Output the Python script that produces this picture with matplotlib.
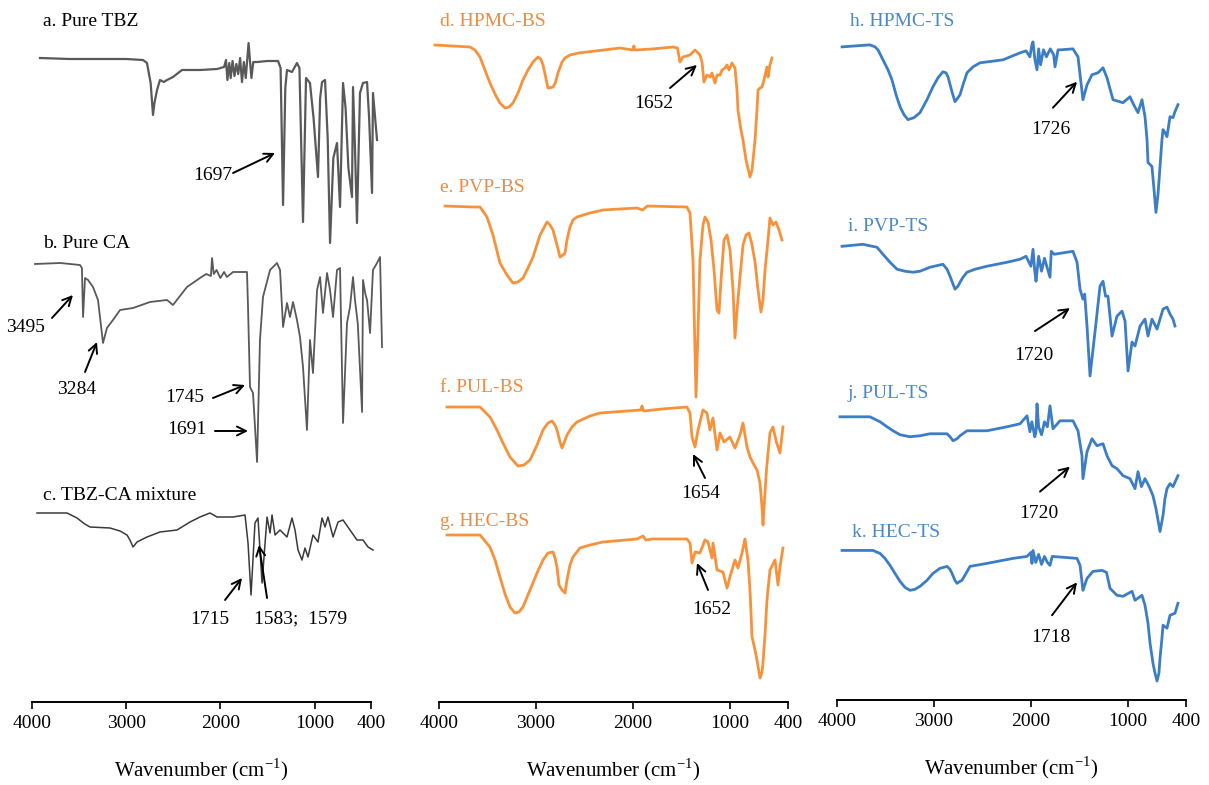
import matplotlib.pyplot as plt

plt.rcParams['font.family'] = ['Liberation Serif', 'DejaVu Serif']
plt.rcParams['mathtext.fontset'] = 'custom'
plt.rcParams['mathtext.rm'] = 'Liberation Serif'

# FTIR spectra: wavenumber (cm-1) and relative transmittance (a.u., 0 = baseline)
# a. Pure TBZ
tbz_wn = [3915, 3600, 3300, 3000, 2821, 2779, 2740, 2715, 2700, 2672, 2641, 2600, 2566, 2503, 2407,
          2216, 2035, 1960, 1940, 1925, 1905, 1890, 1870, 1850, 1830, 1810, 1790, 1770, 1750, 1730,
          1700, 1685, 1670, 1650, 1610, 1500, 1387, 1360, 1334, 1310, 1292, 1239, 1186, 1160, 1122,
          1090, 1048, 1010, 963, 940, 920, 888, 860, 835, 800, 761, 729, 697, 670, 640,
          602, 591, 570, 549, 517, 485, 442, 420, 389, 379, 336]
tbz_t = [0, -1, -1, -1, -2, -5, -25, -57, -45, -32, -22, -24, -22, -19, -12,
         -12, -11, -9, -2, -22, -5, -20, -3, -18, -6, -16, 0, -24, -4, -20,
         15, -3, -20, -4, -4, -3, -3, -10, -147, -30, -12, -14, -5, -10, -164,
         -20, -25, -60, -119, -40, -24, -22, -80, -185, -100, -85, -149, -25, -50, -110,
         -139, -29, -90, -165, -35, -25, -24, -60, -135, -35, -82]

# b. Pure CA
ca_wn = [3968, 3700, 3490, 3470, 3458, 3437, 3405, 3352, 3299, 3246, 3204, 3140, 3065, 2927, 2747,
         2566, 2503, 2354, 2216, 2150, 2100, 2088, 2070, 2040, 2000, 1960, 1930, 1865, 1717, 1706,
         1685, 1653, 1610, 1579, 1547, 1472, 1398, 1366, 1334, 1292, 1260, 1228, 1186, 1154, 1122,
         1080, 1048, 1016, 973, 941, 910, 867, 835, 803, 761, 729, 697, 655, 623, 591,
         570, 540, 495, 485, 460, 442, 410, 379, 336, 304, 283]
ca_t = [0, 1, -1, -4, -53, -14, -16, -23, -36, -79, -64, -56, -46, -44, -38,
        -36, -41, -23, -14, -10, -12, 6, -10, -6, -14, -8, -13, -8, -8, -43,
        -123, -129, -198, -76, -33, -6, 1, -6, -63, -39, -53, -38, -56, -73, -103,
        -166, -76, -109, -26, -13, -49, -9, -26, -53, -6, -4, -159, -59, -43, -13,
        -36, -60, -148, -16, -30, -36, -69, -6, 1, 7, -83]

# c. TBZ-CA mixture
mix_wn = [3947, 3628, 3522, 3440, 3384, 3172, 3065, 2991, 2960, 2927, 2885, 2779, 2641, 2460, 2322,
          2216, 2110, 2035, 1865, 1738, 1706, 1674, 1632, 1600, 1557, 1504, 1472, 1451, 1419, 1366,
          1292, 1239, 1207, 1175, 1133, 1101, 1069, 1016, 963, 920, 888, 857, 803, 750, 697,
          623, 549, 485, 432, 379]
mix_t = [0, 0, -5, -11, -14, -15, -18, -22, -27, -34, -29, -24, -19, -17, -9,
         -4, 0, -4, -4, -2, -30, -82, -10, -5, -70, -4, -20, -2, -22, -17,
         -24, -5, -17, -37, -47, -35, -44, -22, -29, -5, -14, -4, -24, -9, -7,
         -17, -27, -27, -34, -37]

# d. HPMC-BS
hpmc_bs_wn = [4041, 3680, 3629, 3577, 3526, 3474, 3412, 3371, 3319, 3278, 3237, 3185, 3134, 3082, 3030,
              2979, 2950, 2927, 2900, 2876, 2824, 2800, 2773, 2731, 2700, 2649, 2560, 2473, 2300, 2133,
              2000, 1990, 1980, 1800, 1586, 1540, 1514, 1483, 1411, 1359, 1328, 1308, 1287, 1267, 1236,
              1205, 1184, 1153, 1132, 1101, 1081, 1050, 1029, 1009, 978, 947, 926, 916, 885, 864,
              833, 792, 771, 740, 720, 709, 689, 668, 648, 617, 606, 586, 565]
hpmc_bs_t = [0, -2, -5, -12, -25, -38, -51, -58, -63, -62, -58, -48, -35, -25, -17,
             -12, -14, -20, -32, -43, -42, -38, -28, -17, -13, -10, -8, -7, -5, -3,
             -5, -1, -5, -4, -2, -3, -17, -12, -10, -5, -8, -10, -17, -37, -30,
             -32, -28, -38, -30, -30, -25, -23, -20, -25, -18, -23, -45, -65, -85, -95,
             -115, -132, -125, -95, -65, -45, -43, -42, -35, -22, -32, -20, -13]

# e. PVP-BS
pvp_bs_wn = [3938, 3650, 3577, 3505, 3443, 3371, 3299, 3237, 3185, 3134, 3082, 3030, 2958, 2886, 2855,
             2824, 2783, 2752, 2721, 2700, 2680, 2649, 2618, 2577, 2443, 2308, 1958, 1900, 1850, 1442,
             1411, 1380, 1349, 1328, 1308, 1277, 1256, 1225, 1194, 1163, 1132, 1112, 1091, 1060, 1029,
             998, 967, 947, 926, 895, 864, 833, 802, 771, 740, 709, 679, 658, 637, 606,
             586, 555, 524, 493, 462]
pvp_bs_t = [0, -1, -1, -11, -29, -57, -69, -77, -76, -72, -62, -51, -29, -16, -19,
            -24, -39, -51, -49, -47, -34, -21, -14, -11, -7, -4, -2, -4, 0, -1,
            -7, -54, -191, -124, -54, -19, -11, -16, -34, -64, -104, -107, -74, -34, -29,
            -44, -84, -132, -104, -71, -39, -29, -27, -39, -56, -84, -106, -94, -64, -34,
            -12, -19, -16, -24, -34]

# f. PUL-BS
pul_bs_wn = [3917, 3577, 3474, 3402, 3340, 3268, 3185, 3123, 3061, 2989, 2927, 2876, 2834, 2803, 2783,
             2752, 2731, 2711, 2680, 2628, 2577, 2443, 2339, 2061, 1920, 1906, 1890, 1700, 1442, 1411,
             1390, 1359, 1328, 1277, 1236, 1205, 1174, 1132, 1101, 1060, 999, 947, 895, 864, 823,
             792, 761, 720, 689, 668, 658, 640, 620, 586, 555, 520, 483, 452]
pul_bs_t = [0, 0, -10, -23, -36, -50, -59, -58, -53, -38, -23, -16, -14, -18, -23,
            -35, -41, -36, -28, -20, -15, -9, -6, -4, -3, 1, -4, -2, 0, -6,
            -30, -40, -23, -3, -6, -23, -11, -43, -26, -35, -30, -41, -28, -16, -40,
            -50, -56, -63, -76, -100, -118, -90, -60, -26, -20, -35, -46, -20]

# g. HEC-BS
hec_bs_wn = [3917, 3577, 3474, 3422, 3371, 3319, 3268, 3216, 3175, 3134, 3061, 2989, 2927, 2876, 2824,
             2803, 2783, 2762, 2731, 2700, 2680, 2649, 2618, 2546, 2443, 2308, 1958, 1896, 1865, 1800,
             1442, 1411, 1390, 1359, 1308, 1257, 1225, 1184, 1174, 1132, 1071, 1029, 999, 947, 916,
             874, 844, 813, 792, 771, 740, 720, 689, 668, 658, 637, 617, 586, 534, 503,
             483, 452]
hec_bs_t = [0, 0, -12, -25, -42, -59, -72, -78, -77, -72, -55, -38, -25, -18, -17,
            -23, -32, -50, -55, -58, -45, -30, -22, -13, -10, -7, -4, -1, -5, -4,
            -4, -8, -28, -17, -18, -5, -7, -23, -8, -35, -37, -53, -42, -25, -33,
            -18, -4, -25, -55, -102, -115, -125, -143, -137, -128, -100, -65, -35, -25, -50,
            -32, -13]

# h. HPMC-TS
hpmc_ts_wn = [3948, 3660, 3608, 3577, 3526, 3474, 3433, 3391, 3350, 3309, 3268, 3206, 3144, 3072, 3010,
              2958, 2907, 2876, 2855, 2814, 2783, 2752, 2731, 2700, 2659, 2597, 2525, 2288, 2112, 2050,
              2010, 1990, 1978, 1960, 1937, 1920, 1900, 1870, 1840, 1800, 1765, 1751, 1720, 1700, 1566,
              1514, 1463, 1421, 1370, 1308, 1256, 1215, 1153, 1050, 978, 940, 895, 854, 823, 802,
              792, 771, 751, 730, 710, 689, 668, 648, 637, 617, 596, 565, 534, 514, 483]
hpmc_ts_t = [0, 2, 0, -3, -13, -23, -33, -48, -60, -68, -73, -71, -66, -53, -40,
             -31, -25, -26, -30, -45, -55, -51, -48, -38, -26, -20, -16, -13, -6, -4,
             -10, 2, 5, -12, -23, -2, -18, -3, -10, -2, -8, -20, -3, -3, -2,
             -10, -53, -38, -28, -26, -21, -31, -53, -56, -50, -58, -66, -53, -70, -93,
             -116, -118, -120, -143, -166, -148, -120, -93, -83, -86, -90, -70, -71, -65, -58]

# i. PVP-TS
pvp_ts_wn = [3948, 3732, 3587, 3526, 3453, 3381, 3299, 3216, 3144, 3041, 2907, 2865, 2834, 2803, 2783,
             2752, 2731, 2700, 2659, 2577, 2453, 2246, 2112, 2050, 2000, 1978, 1960, 1947, 1920, 1890,
             1860, 1830, 1803, 1790, 1760, 1566, 1524, 1493, 1463, 1445, 1421, 1390, 1339, 1287, 1256,
             1230, 1205, 1163, 1112, 1060, 1029, 998, 957, 926, 874, 823, 792, 751, 699, 637,
             596, 565, 534, 514]
pvp_ts_t = [0, 2, -1, -8, -16, -23, -25, -26, -25, -21, -18, -23, -30, -38, -43,
            -40, -36, -31, -26, -23, -20, -16, -13, -10, -20, -3, -25, -35, -10, -25,
            -12, -22, -31, -5, -8, -5, -16, -43, -53, -48, -80, -130, -86, -40, -35,
            -50, -50, -90, -70, -65, -75, -125, -96, -100, -80, -73, -90, -73, -83, -63,
            -61, -68, -73, -80]

# j. PUL-TS
pul_ts_wn = [3969, 3660, 3556, 3484, 3422, 3350, 3247, 3144, 3041, 2865, 2834, 2803, 2762, 2731, 2659,
             2453, 2246, 2112, 2040, 2010, 1990, 1960, 1947, 1937, 1920, 1890, 1860, 1830, 1803, 1772,
             1700, 1566, 1514, 1473, 1463, 1421, 1370, 1318, 1256, 1215, 1163, 1112, 1050, 978, 926,
             895, 860, 823, 780, 741, 710, 668, 637, 617, 596, 565, 534, 483]
pul_ts_t = [0, 0, -5, -10, -14, -18, -20, -19, -17, -17, -20, -24, -22, -19, -14,
            -14, -10, -7, 1, -15, -5, -20, -15, 13, -10, -18, -5, -10, 11, -12,
            -4, -4, -14, -39, -62, -35, -22, -29, -27, -39, -49, -52, -59, -62, -72,
            -55, -70, -62, -70, -79, -92, -115, -99, -82, -72, -67, -70, -59]

# k. HEC-TS
hec_ts_wn = [3948, 3629, 3556, 3505, 3453, 3402, 3350, 3299, 3247, 3196, 3144, 3072, 3010, 2938, 2865,
             2834, 2814, 2783, 2762, 2731, 2711, 2669, 2628, 2453, 2185, 2040, 2000, 1989, 1978, 1950,
             1920, 1890, 1860, 1830, 1803, 1780, 1524, 1493, 1463, 1421, 1359, 1267, 1220, 1184, 1112,
             1050, 957, 926, 854, 823, 792, 771, 741, 720, 699, 679, 668, 648, 637, 596,
             565, 514, 483]
hec_ts_t = [0, 0, -3, -8, -15, -23, -31, -37, -40, -39, -36, -30, -23, -18, -16,
            -19, -23, -30, -33, -31, -30, -23, -16, -13, -8, -6, -2, -13, 0, -12,
            -4, -14, -6, -12, -15, -6, -8, -15, -40, -28, -21, -20, -22, -38, -45,
            -46, -41, -50, -45, -55, -73, -93, -113, -123, -131, -123, -108, -88, -75, -78,
            -65, -63, -53]

labels = ['a. Pure TBZ', 'b. Pure CA', 'c. TBZ-CA mixture',
          'd. HPMC-BS', 'e. PVP-BS', 'f. PUL-BS', 'g. HEC-BS',
          'h. HPMC-TS', 'i. PVP-TS', 'j. PUL-TS', 'k. HEC-TS']
ticks = [4000, 3000, 2000, 1000, 400]

GRAY = '#595959'
DARK = '#3a3a3a'
ORANGE = '#F7923B'
BLUE = '#3B7DC6'
ORANGE_TXT = '#EE8B3E'
BLUE_TXT = '#4A88C9'

fig = plt.figure(figsize=(12.09, 7.85), dpi=100)
H = 785.0
axes = [fig.add_axes([32 / 1209, (H - 702) / H, 339 / 1209, 702 / H]),
        fig.add_axes([439 / 1209, (H - 702) / H, 349 / 1209, 702 / H]),
        fig.add_axes([837 / 1209, (H - 700) / H, 349 / 1209, 700 / H])]

for ax in axes:
    ax.set_xlim(4000, 400)
    ax.set_ylim(-702, 0)
    for s in ['top', 'left', 'right']:
        ax.spines[s].set_visible(False)
    ax.spines['bottom'].set_linewidth(1.4)
    ax.set_yticks([])
    ax.set_xticks(ticks)
    ax.set_xticklabels([str(t) for t in ticks])
    ax.tick_params(axis='x', direction='out', length=5, width=1.2, labelsize=14, pad=4)
    ax.set_xlabel('Wavenumber (cm$^{\\mathregular{-1}}$)', fontsize=15, labelpad=18)
    ax.patch.set_visible(False)

# (axis, x, y, colour, linewidth, baseline row)
series = [
    (0, tbz_wn, tbz_t, GRAY, 1.6, 58),
    (0, ca_wn, ca_t, GRAY, 1.3, 264),
    (0, mix_wn, mix_t, DARK, 1.1, 513),
    (1, hpmc_bs_wn, hpmc_bs_t, ORANGE, 2.0, 45),
    (1, pvp_bs_wn, pvp_bs_t, ORANGE, 2.0, 206),
    (1, pul_bs_wn, pul_bs_t, ORANGE, 2.0, 407),
    (1, hec_bs_wn, hec_bs_t, ORANGE, 2.0, 535),
    (2, hpmc_ts_wn, hpmc_ts_t, BLUE, 2.0, 47),
    (2, pvp_ts_wn, pvp_ts_t, BLUE, 2.0, 247),
    (2, pul_ts_wn, pul_ts_t, BLUE, 2.0, 418),
    (2, hec_ts_wn, hec_ts_t, BLUE, 2.0, 552),
]
for i, x, y, c, lw, base in series:
    axes[i].plot(x, [v - base for v in y], color=c, lw=lw, clip_on=False,
                 solid_joinstyle='round')

# panel titles: (axis, x, y, colour)
title_pos = [(0, 3883, -22, 'black'), (0, 3883, -243, 'black'), (0, 3883, -495, 'black'),
             (1, 3990, -22, ORANGE_TXT), (1, 3990, -187, ORANGE_TXT),
             (1, 3990, -388, ORANGE_TXT), (1, 3990, -521, ORANGE_TXT),
             (2, 3866, -22, BLUE_TXT), (2, 3887, -227, BLUE_TXT),
             (2, 3887, -395, BLUE_TXT), (2, 3845, -534, BLUE_TXT)]
for lab, (i, x, y, c) in zip(labels, title_pos):
    axes[i].text(x, y, lab, color=c, fontsize=14, ha='left', va='center')

# peak annotations: (axis, text, text xy, arrow tail, arrow tip)
notes = [
    (0, '1697', (2078, -175), (1865, -173), (1419, -153)),
    (0, '3495', (4064, -327), (3788, -318), (3565, -295)),
    (0, '3284', (3522, -389), (3437, -372), (3310, -342)),
    (0, '1745', (2375, -398), (2078, -398), (1738, -385)),
    (0, '1691', (2354, -430), (2057, -431), (1706, -431)),
    (0, '1715', (2110, -619), (1950, -600), (1770, -578)),
    (0, '1583;  1579', (1143, -619), (1504, -598), (1589, -545)),
    (1, '1652', (1782, -103), (1617, -88), (1339, -65)),
    (1, '1654', (1297, -494), (1256, -478), (1380, -454)),
    (1, '1652', (1184, -609), (1225, -590), (1339, -563)),
    (2, '1726', (1793, -130), (1772, -108), (1524, -82)),
    (2, '1720', (1968, -357), (1958, -332), (1597, -309)),
    (2, '1720', (1916, -515), (1906, -493), (1597, -468)),
    (2, '1718', (1793, -639), (1782, -617), (1524, -584)),
]
for i, txt, pos, tail, tip in notes:
    ax = axes[i]
    ax.text(pos[0], pos[1], txt, fontsize=14, ha='center', va='center', clip_on=False)
    ax.annotate('', xy=tip, xytext=tail,
                arrowprops=dict(arrowstyle='->', lw=1.4, color='black',
                                shrinkA=0, shrinkB=0, mutation_scale=16),
                annotation_clip=False)

fig.savefig('out.png', dpi=100)
